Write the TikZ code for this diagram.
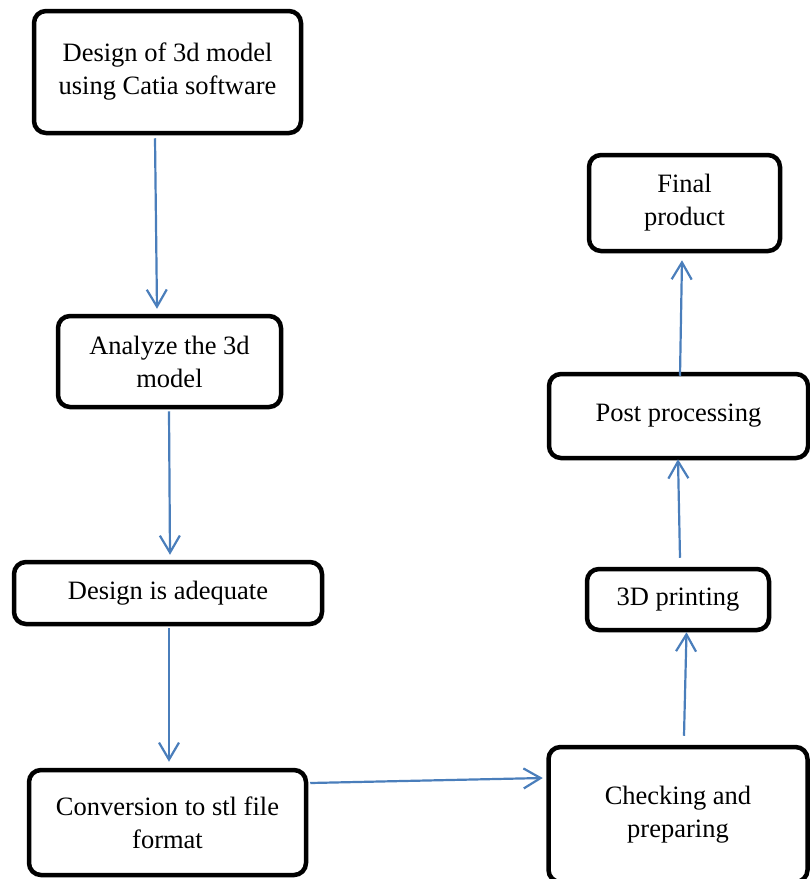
\documentclass[tikz,border=0pt]{standalone}
\usepackage{fontspec}
\setmainfont{Liberation Serif}
\usepackage{tikz}
\usetikzlibrary{arrows.meta}
\definecolor{linkblue}{HTML}{4A7EBB}

\begin{document}
\begin{tikzpicture}[x=1pt,y=-1pt,
	  blok/.style={draw,line width=4.5pt,rounded corners=12pt,align=center,inner sep=0pt,
	    font=\fontsize{26.5pt}{33pt}\selectfont},
	  flow/.style={draw=linkblue,line width=2.2pt,-{Straight Barb[length=17pt,width=20pt]}}]
	  \useasboundingbox (0,0) rectangle (810,879);
	  \node (design) [blok,minimum width=267pt,minimum height=122pt] at (167.5,72) {Design of 3d model\\using Catia software};
	  \node (analyze) [blok,minimum width=223pt,minimum height=91pt] at (169.5,361.5) {Analyze the 3d\\model};
	  \node (adequate) [blok,minimum width=308pt,minimum height=62pt] at (168,593) {Design is adequate};
	  \node (stl) [blok,minimum width=277pt,minimum height=105pt] at (167.5,822.5) {Conversion to stl file\\format};
	  \node (check) [blok,minimum width=259pt,minimum height=135pt] at (678,814.5) {Checking and\\preparing};
	  \node (printing) [blok,minimum width=182pt,minimum height=61pt] at (678,599.5) {3D printing};
	  \node (post) [blok,minimum width=259pt,minimum height=84pt] at (678.5,416) {Post processing};
	  \node (final) [blok,minimum width=191pt,minimum height=96pt] at (684.5,203) {Final\\product};
	  % connectors
	  \draw[flow] ([xshift=-12.5pt,yshift=-3pt]design.south) -- ([xshift=-12.5pt,yshift=5pt]analyze.north);
	  \draw[flow] ([xshift=-0.5pt,yshift=-2pt]analyze.south) -- ([xshift=2pt,yshift=5pt]adequate.north);
	  \draw[flow] ([xshift=1pt,yshift=-2pt]adequate.south) -- ([xshift=1.5pt,yshift=6pt]stl.north);
	  \draw[flow] ([xshift=2pt,yshift=39.5pt]stl.east) -- ([xshift=-3.5pt,yshift=36.5pt]check.west);
	  \draw[flow] ([xshift=6pt,yshift=9pt]check.north) -- ([xshift=8.5pt]printing.south);
	  \draw[flow] ([xshift=2pt,yshift=9pt]printing.north) -- ([xshift=-0.5pt,yshift=1pt]post.south);
	  \draw[flow] ([xshift=1.5pt,yshift=-4pt]post.north) -- ([xshift=-2.5pt,yshift=-7pt]final.south);
	\end{tikzpicture}
\end{document}
